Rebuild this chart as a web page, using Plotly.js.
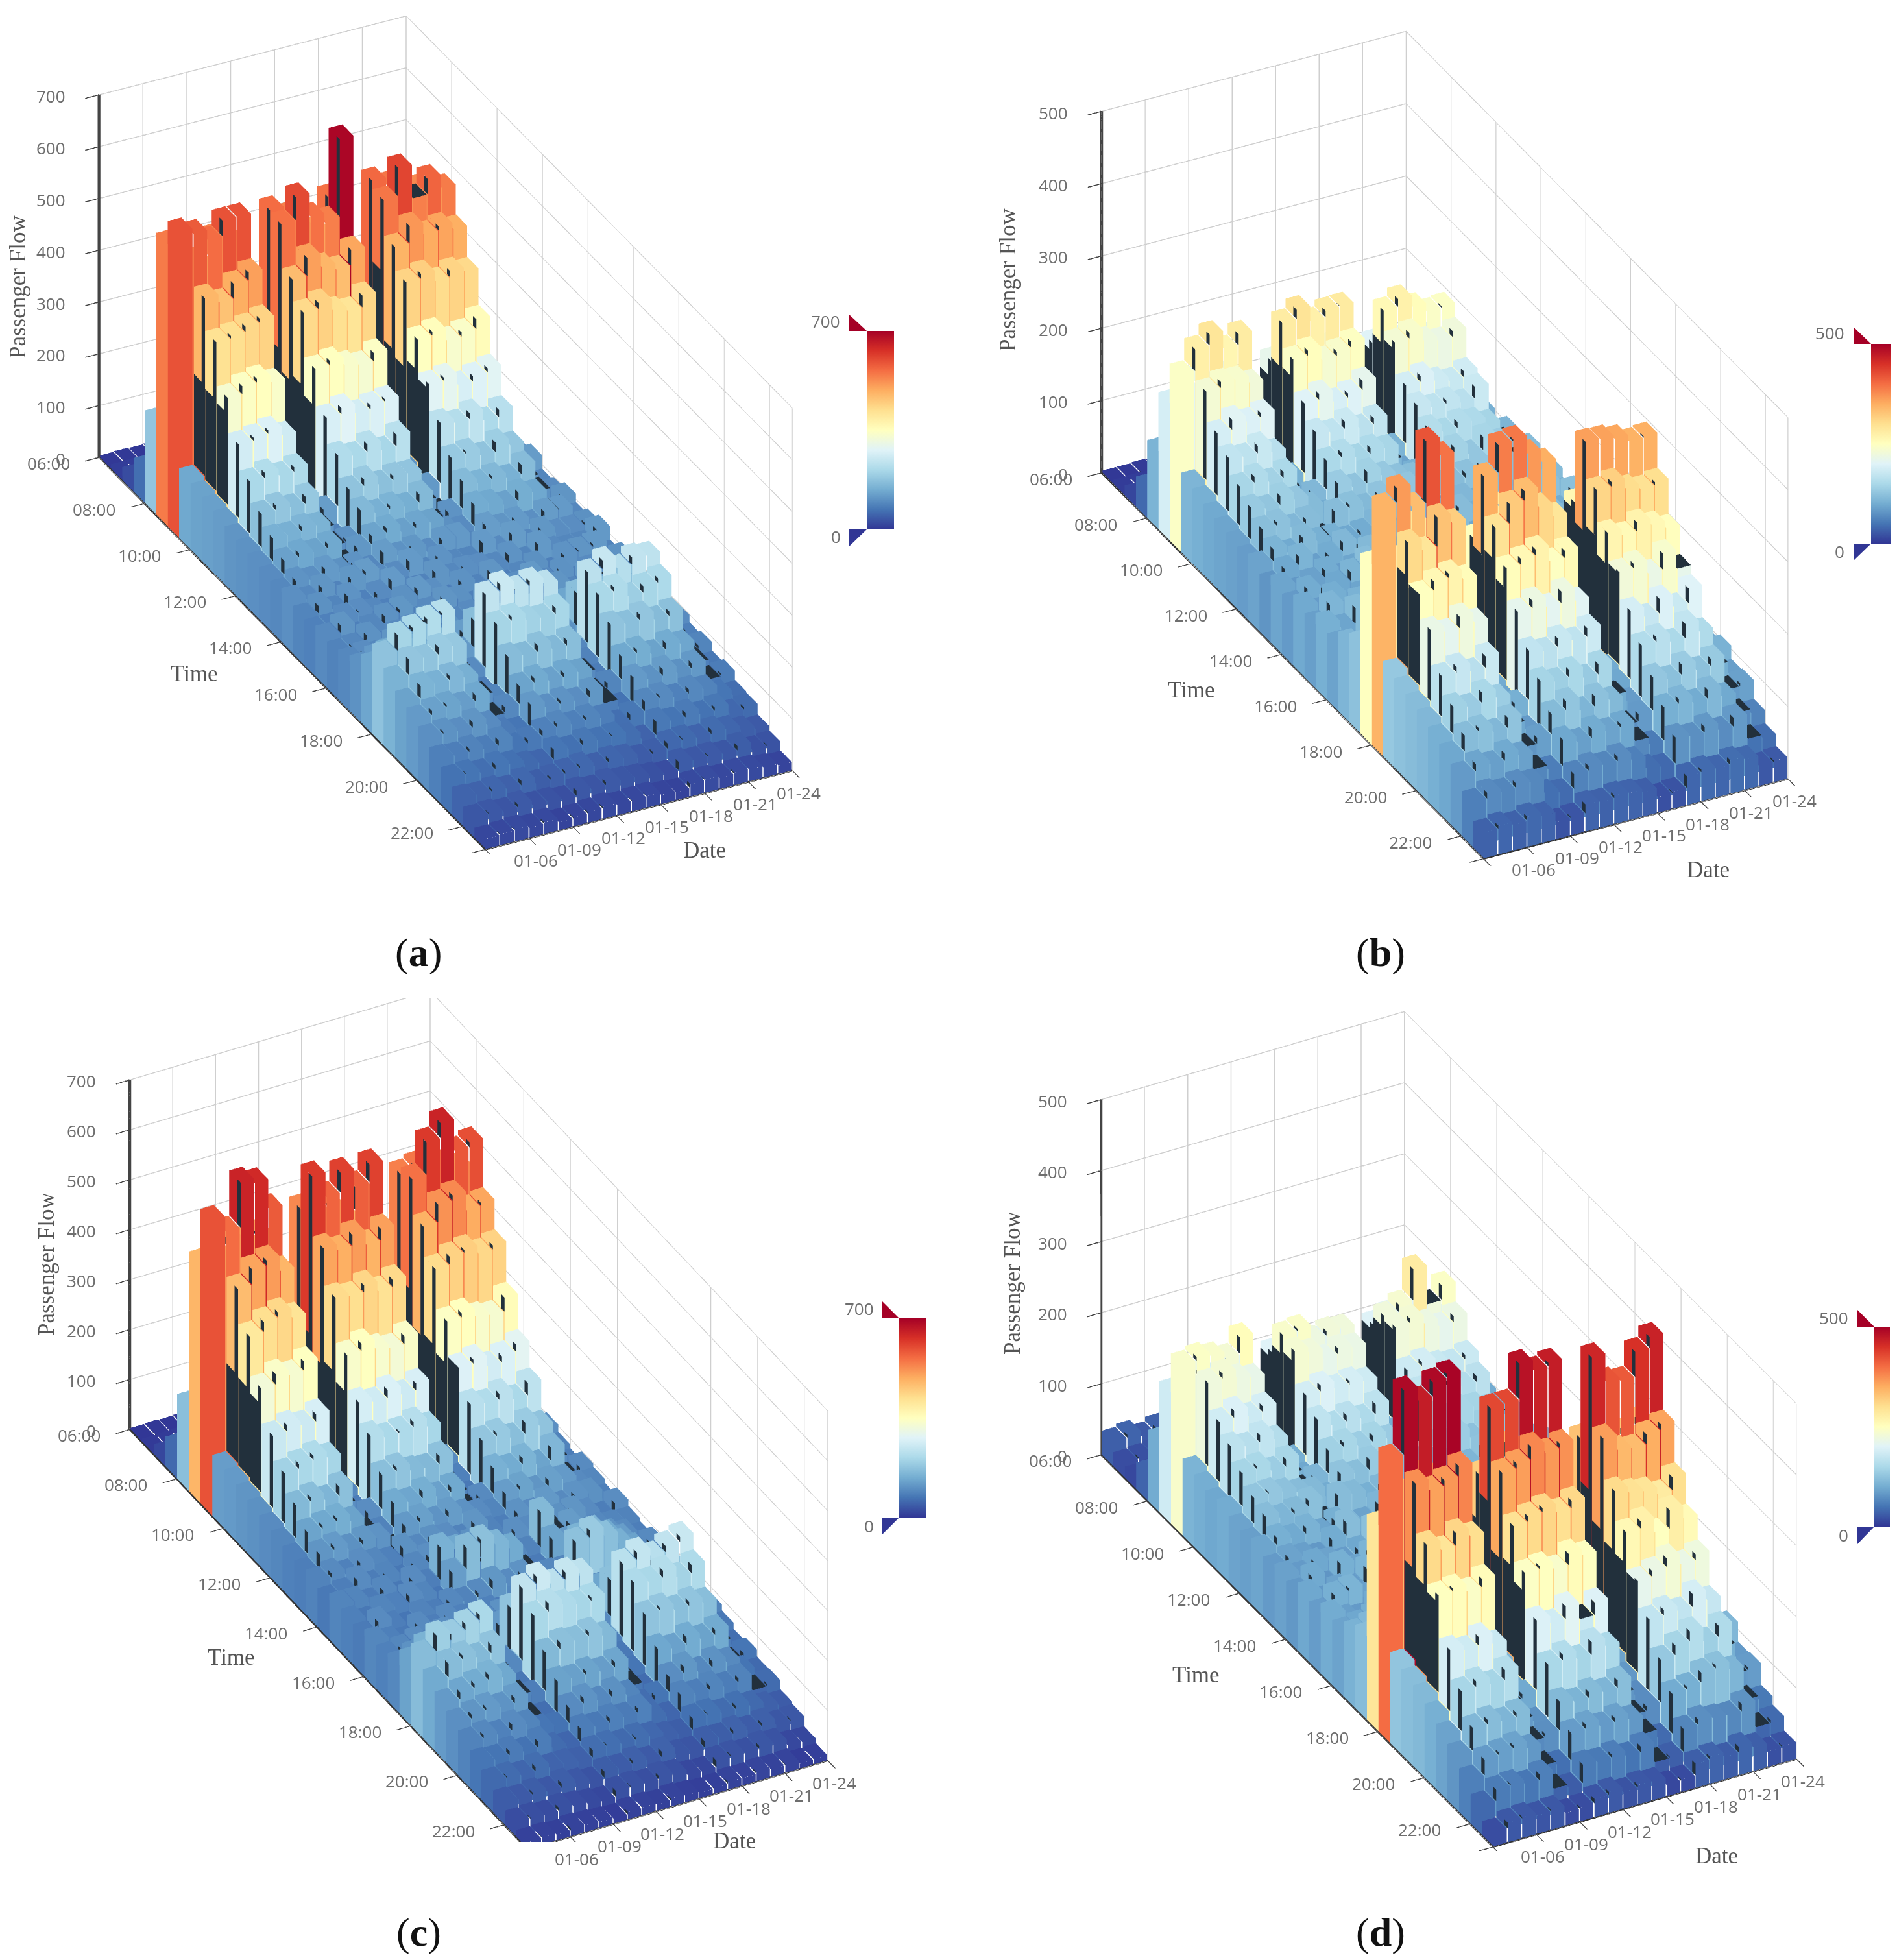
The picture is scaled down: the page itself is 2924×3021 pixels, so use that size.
<!DOCTYPE html>
<html><head><meta charset="utf-8"><script src="https://cdn.plot.ly/plotly-3.0.1.min.js"></script>
<style>html,body{margin:0;background:#fff}#c{width:2924px;height:3021px}</style></head><body><div id="c"></div>
<script>
const dateTicks=['01-06','01-09','01-12','01-15','01-18','01-21','01-24'];
const timeTicks=['06:00','08:00','10:00','12:00','14:00','16:00','18:00','20:00','22:00'];
const colors=['#313695','#4575b4','#74add1','#abd9e9','#e0f3f8','#ffffbf','#fee090','#fdae61','#f46d43','#d73027','#a50026'];
const flowA=[
[4,9,26,66,180,545,590,135,128,124,120,112,108,104,100,96,104,92,88,98,90,96,108,132,175,150,128,118,104,86,70,54,38,20],
[5,10,28,72,186,520,580,478,415,330,262,212,172,148,126,110,96,106,88,112,94,102,118,150,205,180,152,126,108,84,72,52,40,22],
[4,8,30,68,178,495,560,462,420,345,268,222,180,146,134,104,112,92,100,86,108,96,124,158,212,176,148,130,102,90,66,56,36,24],
[5,11,27,74,192,535,590,490,430,352,275,210,170,154,128,118,90,110,102,94,84,112,116,146,222,190,156,122,112,82,74,50,42,20],
[4,9,29,70,184,530,590,505,438,338,258,218,184,150,136,106,114,88,96,108,98,90,128,164,226,184,146,134,100,92,68,58,34,23],
[3,6,14,30,52,74,88,102,96,108,112,98,116,104,92,110,120,100,88,114,102,92,108,98,112,94,104,86,80,72,60,46,34,16],
[3,7,12,28,48,70,92,96,110,94,104,122,90,108,114,96,100,118,106,86,112,98,90,116,100,84,92,96,74,78,56,50,30,18],
[4,10,28,72,190,560,555,470,428,342,270,220,176,158,130,120,100,92,116,98,88,106,122,168,240,205,165,130,116,88,74,54,40,21],
[5,9,30,76,196,540,600,505,440,350,282,212,188,146,138,108,118,90,104,112,94,86,130,176,252,212,160,138,104,94,68,58,36,24],
[4,11,26,70,182,510,555,480,418,336,264,226,172,152,124,114,92,112,84,106,100,96,118,162,236,200,172,126,110,86,76,50,42,20],
[5,10,29,68,188,500,540,468,410,328,272,208,180,144,132,100,110,96,108,88,116,90,126,172,244,196,158,134,102,92,70,56,38,22],
[4,8,31,74,194,555,690,498,432,344,276,230,178,160,128,116,94,104,90,102,92,110,120,166,232,208,168,128,114,84,72,52,36,23],
[3,6,13,32,50,72,90,98,108,92,110,100,118,96,106,116,92,102,112,88,96,108,100,92,106,88,98,82,84,66,64,44,32,18],
[4,7,15,27,54,68,84,106,94,112,98,116,88,110,100,92,118,96,84,104,114,94,86,108,96,90,82,92,70,76,52,48,28,16],
[4,10,30,78,200,565,550,482,436,348,284,232,186,162,140,122,98,110,94,116,90,104,132,170,232,210,176,136,118,94,78,58,44,24],
[5,9,28,72,192,550,605,515,445,356,290,224,190,152,136,112,120,92,106,96,112,88,128,178,248,218,170,142,108,98,72,60,40,26],
[4,11,31,76,186,520,540,492,424,332,268,236,176,158,126,118,96,116,86,108,94,100,122,164,226,194,180,128,120,88,80,54,42,22],
[5,10,27,70,184,530,570,500,436,340,278,214,194,148,142,104,114,98,110,84,118,92,136,174,240,206,164,140,106,96,70,62,38,25],
[4,9,29,74,196,515,545,488,428,358,286,228,182,166,134,120,102,94,112,100,88,112,130,172,236,214,172,132,116,90,76,56,46,24],
[3,7,14,30,56,76,90,104,98,106,116,96,112,108,90,118,102,94,116,100,92,110,96,104,94,98,86,88,78,74,58,48,32,20],
[4,6,12,34,50,72,86,100,114,92,108,120,94,100,112,96,106,116,90,108,98,88,102,94,100,86,92,76,82,64,62,42,34,17]];
const flowB=[
[3,6,14,42,108,190,245,110,104,98,94,90,86,92,80,94,84,98,88,104,92,110,124,250,345,132,124,118,112,104,96,84,62,36],
[3,7,16,46,116,205,275,232,190,172,148,134,120,108,96,82,100,86,110,94,78,104,136,262,365,305,250,216,168,142,118,94,70,40],
[4,6,15,50,120,215,290,240,204,168,156,128,124,98,108,90,78,102,92,116,84,112,128,240,335,290,262,208,176,136,122,88,66,36],
[3,8,17,44,110,200,265,238,196,178,144,140,112,114,88,100,96,82,106,98,120,92,142,290,420,330,268,224,164,150,112,98,72,42],
[4,7,15,48,118,210,280,228,202,164,152,130,118,104,100,86,108,94,84,112,96,106,148,275,395,318,256,212,180,138,126,90,68,38],
[2,5,10,26,44,68,86,100,92,108,96,116,88,104,112,94,120,100,110,88,118,104,126,112,130,118,106,112,92,96,80,66,48,24],
[3,4,11,24,40,64,92,94,104,88,112,100,118,96,86,114,98,124,92,106,116,100,110,128,114,124,100,94,104,84,88,60,44,26],
[3,6,14,46,112,212,280,245,200,176,152,136,122,100,92,104,86,108,96,84,102,118,134,250,350,295,254,210,172,146,116,96,64,38],
[4,7,16,50,118,218,293,252,208,170,158,126,114,110,94,82,106,92,112,100,88,110,146,280,388,322,262,220,166,140,128,88,70,36],
[3,8,15,44,110,205,272,234,192,180,146,142,126,96,104,92,80,110,86,116,98,94,138,285,391,335,270,206,178,150,110,100,66,40],
[4,6,17,48,114,208,281,240,198,166,154,132,110,112,88,98,104,84,100,92,118,106,130,262,366,308,248,222,170,134,124,92,72,38],
[3,7,14,52,120,212,282,248,210,174,148,124,128,106,98,86,94,108,88,110,104,90,144,255,349,290,258,204,182,148,114,96,62,34],
[2,5,11,28,42,70,84,102,88,110,94,120,90,108,100,116,92,118,96,112,106,92,124,108,126,114,110,104,88,100,74,68,46,22],
[3,4,9,26,46,62,88,96,108,92,104,114,86,100,118,96,110,88,122,94,102,120,112,126,110,120,96,100,96,86,84,58,42,24],
[3,6,16,48,116,200,260,232,188,176,160,138,118,112,104,94,88,106,98,118,86,114,136,262,361,310,266,228,190,158,130,104,78,40],
[4,7,14,44,112,208,271,240,196,168,150,144,124,102,90,108,98,84,112,92,120,100,148,272,360,316,258,234,176,164,122,110,74,44],
[3,8,15,50,120,196,255,224,184,172,158,130,130,116,96,86,110,102,82,124,94,118,152,258,355,302,270,216,196,152,136,100,82,40],
[4,6,17,42,110,192,243,218,178,164,154,148,112,106,110,98,90,114,104,88,126,106,140,250,346,296,262,238,180,172,124,112,72,46],
[3,7,15,46,114,190,245,226,186,180,146,136,120,94,102,88,116,96,90,110,100,122,146,246,348,300,252,212,200,156,134,98,84,42],
[2,5,11,28,40,66,90,98,106,94,116,104,114,96,122,100,108,124,92,118,128,110,130,122,134,126,110,116,98,104,86,70,50,28],
[3,4,10,30,44,60,84,104,92,110,100,118,98,116,104,122,94,112,126,102,114,124,118,136,120,130,104,98,106,88,90,64,46,30]];
const flowC=[
[3,6,20,60,170,480,590,122,118,112,106,100,94,88,84,90,78,92,86,80,94,88,96,128,165,138,118,104,90,74,60,44,28,14],
[4,7,22,66,178,495,560,470,400,320,250,200,160,130,112,98,84,92,76,100,86,94,108,150,196,165,132,112,96,72,62,42,30,15],
[3,8,19,62,182,510,650,500,420,340,262,210,168,136,118,88,100,80,92,84,78,102,112,140,190,172,140,118,88,80,56,46,26,12],
[4,6,23,68,172,500,640,510,430,330,254,218,154,142,106,102,82,96,88,74,98,90,118,156,202,160,150,110,100,70,64,40,32,16],
[3,7,21,64,180,505,580,480,412,348,268,206,172,128,114,94,92,76,100,90,84,104,106,160,212,176,136,120,92,82,54,48,28,14],
[2,5,11,26,44,64,78,92,86,98,90,104,84,96,110,88,76,100,92,82,98,86,94,104,88,80,92,72,74,62,54,40,24,12],
[3,4,9,24,40,60,84,88,100,84,96,82,102,90,78,106,94,84,74,96,88,104,80,92,96,76,84,66,70,56,50,34,20,10],
[4,8,22,68,184,530,620,500,426,336,266,224,170,138,116,96,104,148,122,90,84,100,116,176,240,210,160,128,100,82,64,46,32,15],
[3,7,24,64,176,515,570,488,420,350,258,212,176,132,124,106,92,136,164,98,88,108,128,188,254,226,172,124,110,78,66,44,34,16],
[4,6,21,70,186,520,610,510,434,332,274,216,162,144,110,102,86,98,172,114,80,94,120,168,232,216,168,130,96,86,60,50,30,13],
[3,8,23,62,172,490,575,482,414,324,256,226,158,126,120,90,108,130,154,100,96,82,130,178,246,206,176,122,106,80,64,42,36,17],
[4,7,20,72,190,535,610,505,428,340,270,208,174,136,108,112,94,104,138,110,86,92,114,172,236,212,160,132,92,88,58,52,32,14],
[2,5,10,28,42,62,80,90,88,94,82,98,92,84,100,90,78,96,86,92,102,84,90,94,86,82,70,76,64,64,50,38,22,11],
[3,4,12,24,46,66,76,86,94,82,100,88,78,98,92,84,104,90,80,96,86,92,84,100,84,78,74,62,72,56,46,36,20,12],
[3,8,23,70,192,540,555,484,424,344,276,228,180,148,122,108,100,160,130,94,174,106,132,172,230,216,176,134,102,90,68,48,34,16],
[4,7,21,66,186,548,620,520,440,352,284,220,186,140,128,100,96,106,118,150,188,102,136,182,244,210,182,126,114,84,70,46,36,15],
[3,9,24,72,180,560,650,530,446,336,262,232,168,152,112,116,106,120,104,156,170,98,126,170,228,224,170,140,96,92,62,52,32,18],
[4,7,20,64,174,525,585,492,430,330,274,212,190,130,124,98,112,94,110,138,146,110,138,180,240,202,178,128,108,82,68,44,38,16],
[3,8,22,68,182,520,595,498,438,358,288,236,176,156,118,110,100,96,108,122,128,102,130,176,250,218,168,138,98,90,60,50,34,17],
[2,5,11,26,46,68,76,94,90,100,96,84,102,88,98,106,84,92,98,88,82,94,88,96,86,76,80,64,72,58,50,38,22,10],
[3,4,9,30,42,62,82,86,98,92,104,90,82,100,94,86,102,90,84,98,92,80,94,86,90,78,66,74,60,62,44,40,20,11]];
const flowD=[
[34,20,16,38,100,185,240,108,102,96,100,92,88,94,84,90,82,96,86,100,92,106,118,290,400,128,120,114,104,92,80,62,42,20],
[38,22,18,42,106,195,245,225,186,168,146,128,118,104,92,84,98,82,104,88,96,112,150,340,490,375,305,250,190,148,112,84,58,28],
[30,24,16,44,110,200,240,232,196,162,150,130,110,98,88,96,80,92,108,84,102,104,156,325,470,360,292,254,184,156,118,88,60,30],
[36,18,20,40,102,190,232,220,182,172,138,124,114,106,82,92,104,86,90,98,112,98,146,345,490,368,310,244,196,146,110,92,54,26],
[28,26,17,46,108,205,255,214,190,160,148,118,122,94,100,86,92,108,84,104,94,118,160,335,495,382,300,256,180,160,116,82,62,28],
[24,16,10,28,42,62,82,98,92,106,100,114,88,104,118,96,108,90,112,102,116,108,122,116,128,120,112,100,92,84,70,52,36,18],
[26,14,12,24,38,66,86,92,104,96,110,100,118,92,100,122,98,114,86,120,106,96,116,130,118,106,112,94,98,76,74,48,32,20],
[32,20,15,40,104,200,240,234,188,170,142,126,114,92,90,98,84,104,92,88,100,116,152,320,430,355,296,246,196,150,114,86,58,26],
[28,24,18,46,110,196,243,226,196,156,148,120,104,110,82,94,106,86,96,100,90,108,160,330,430,362,304,250,186,158,108,92,56,30],
[34,18,17,42,102,205,222,212,186,164,138,134,112,86,100,82,90,110,88,94,114,104,170,350,480,380,310,240,204,146,116,84,60,24],
[26,22,14,44,108,198,228,220,190,154,146,122,118,96,92,104,86,98,106,84,102,122,162,338,465,366,298,256,180,164,110,90,52,28],
[30,16,16,48,114,202,226,216,184,168,136,116,108,102,86,90,96,84,100,92,108,112,166,328,470,372,308,248,198,152,120,82,60,26],
[22,15,11,26,40,60,80,96,90,104,108,98,112,94,110,88,118,100,106,116,96,120,110,124,116,114,104,100,88,80,66,56,32,16],
[24,14,10,24,44,64,84,94,102,98,92,112,96,114,100,106,90,116,104,94,118,108,122,112,118,106,94,92,82,72,72,44,34,18],
[28,20,15,42,110,198,226,226,182,170,150,132,120,104,96,88,106,94,112,92,116,118,158,330,460,362,304,262,210,172,132,100,66,34],
[26,18,14,40,106,206,236,232,188,164,142,138,110,112,84,100,92,108,88,120,98,128,150,318,420,340,296,272,218,180,146,104,74,38],
[24,21,17,44,114,192,280,220,178,170,148,124,126,98,104,90,86,114,100,96,122,110,170,314,415,336,292,250,230,172,160,118,70,32],
[28,16,13,38,104,200,225,210,174,158,146,140,108,106,92,98,112,90,118,104,94,124,156,322,450,350,282,276,216,190,140,122,68,40],
[22,19,16,42,108,194,245,218,180,166,138,128,118,92,102,86,96,108,94,114,106,116,166,332,465,358,300,258,224,176,156,110,78,34],
[20,15,10,26,38,64,86,94,100,106,96,116,104,120,98,112,124,102,116,130,108,122,134,128,140,168,150,122,100,104,82,62,40,22],
[22,13,10,28,42,58,80,100,90,108,114,102,118,96,110,126,100,124,106,114,128,116,132,146,160,124,108,100,112,84,86,56,44,24]];
const W=2924,H=3021,D=1300,SLOTS=34,DAYS=21;
const scale=colors.map((c,i)=>[i/10,c]);
const panels=[
 {n:'scene',cx:687,cy:667,el:30.7,az:-26.7,A:695,B:278,C:341,max:700,rows:flowA,z:[0,100,200,300,400,500,600,700],
  cb:[1336,1378,510,816],tri:[1309,485,842],lab:[1272,495,1288,827],cap:['a',645,1468],pf:[27,443],tm:[299,1038],dt:[1086,1310]},
 {n:'scene2',cx:2227,cy:686,el:31,az:-27,A:694,B:282,C:348,max:500,rows:flowB,z:[0,100,200,300,400,500],
  cb:[2884,2915,530,838],tri:[2857,504,864],lab:[2820,513,2835,850],cap:['b',2128,1468],pf:[1554,431],tm:[1837,1063],dt:[2633,1340]},
 {n:'scene3',cx:738,cy:2189,el:34,az:-27.9,A:675,B:270,C:335,max:700,rows:flowC,z:[0,100,200,300,400,500,600,700],
  cb:[1386,1428,2032,2339],tri:[1360,2006,2365],lab:[1324,2017,1339,2352],cap:['c',645,2978],pf:[71,1949],tm:[356,2554],dt:[1132,2837]},
 {n:'scene4',cx:2233,cy:2203,el:32.6,az:-28.3,A:686,B:286,C:350,max:500,rows:flowD,z:[0,100,200,300,400,500],
  cb:[2889,2913,2045,2353],tri:[2863,2019,2380],lab:[2826,2031,2841,2366],cap:['d',2128,2978],pf:[1560,1978],tm:[1843,2581],dt:[2646,2860]}
];
function build(p){
 const xs=[],ys=[],zs=[],I=[],J=[],K=[],V=[];
 const dx=[],dy=[],dz=[],dI=[],dJ=[],dK=[];
 const wt=0.985,wd=0.93,slope=0.2*p.max,slit=0.25*p.max,sliver=0.3;
 const lit=(q,v)=>{const e=xs.length;q.forEach(a=>{xs.push(a[0]);ys.push(a[1]);zs.push(a[2]);});I.push(e,e);J.push(e+1,e+2);K.push(e+2,e+3);V.push(v,v);};
 const dark=(q)=>{const e=dx.length;q.forEach(a=>{dx.push(a[0]);dy.push(a[1]);dz.push(a[2]);});dI.push(e,e);dJ.push(e+1,e+2);dK.push(e+2,e+3);};
 p.rows.forEach((row,d)=>row.forEach((v,t)=>{
  const x0=t+(1-wt)/2,x1=t+1-(1-wt)/2,y0=d+(1-wd)/2,y1=d+1-(1-wd)/2,xm=x1-sliver*(x1-x0);
  const n=d>0?p.rows[d-1][t]:0;
  lit([[x1,y0,0],[x1,y1,0],[x1,y1,v],[x1,y0,v]],v);
  const top=[[x0,y0,v],[x1,y0,v],[x1,y1,v],[x0,y1,v]];
  if(d>0&&n-v>Math.max(0.04*p.max,0.1*n)) dark(top); else lit(top,v);
  if(d===0) lit([[x0,y0,0],[x1,y0,0],[x1,y0,v],[x0,y0,v]],v);
  else if(n<v){
   let s=n;
   if(v-n>slit){
    s=Math.min(v,Math.max(n+slit,d>1?p.rows[d-2][t]-slope:0,d>2?p.rows[d-3][t]-2*slope:0));
    dark([[x0,y0,n],[x1,y0,n],[x1,y0,s],[x0,y0,s]]);
   }
   if(s<v){
    lit([[x0,y0,s],[xm,y0,s],[xm,y0,v],[x0,y0,v]],v);
    dark([[xm,y0,s],[x1,y0,s],[x1,y0,v],[xm,y0,v]]);
   }
  }
 }));
 const flat={ambient:1,diffuse:0,specular:0,roughness:1,fresnel:0};
 const out=[{type:'mesh3d',scene:p.n,x:xs,y:ys,z:zs,i:I,j:J,k:K,intensity:V,intensitymode:'cell',colorscale:scale,cmin:0,cmax:p.max,flatshading:true,lighting:flat,hoverinfo:'skip',
   colorbar:{len:p.cb[3]-p.cb[2],lenmode:'pixels',thickness:p.cb[1]-p.cb[0],thicknessmode:'pixels',x:p.cb[0]/W,xanchor:'left',y:1-p.cb[2]/H,yanchor:'top',showticklabels:false,ticks:'',outlinewidth:0,xpad:0,ypad:0}}];
 if(dx.length) out.push({type:'mesh3d',scene:p.n,x:dx,y:dy,z:dz,i:dI,j:dJ,k:dK,color:'#22303c',flatshading:true,lighting:flat,hoverinfo:'skip',showscale:false});
 return out;
}
const labelFont={family:'Open Sans, sans-serif',size:26,color:'#6e6e6e'};
const layout={width:W,height:H,paper_bgcolor:'#fff',margin:{l:0,r:0,t:0,b:0,autoexpand:false},showlegend:false,annotations:[],shapes:[]};
const traces=[];
const px=(x)=>x/W,py=(y)=>1-y/H;
function note(x,y,text,font,angle){layout.annotations.push({xref:'paper',yref:'paper',x:px(x),y:py(y),text:text,showarrow:false,font:font,textangle:angle||0,xanchor:'center',yanchor:'middle'});}
const serif={family:'Liberation Serif, serif',size:35,color:'#555'};
const capFont={family:'Liberation Serif, serif',size:62,color:'#111'};
panels.forEach(p=>{
 const r=Math.PI/180,c=Math.cos(p.el*r),s=Math.sin(p.el*r),ca=Math.cos(p.az*r),sa=Math.sin(p.az*r),dist=4.6;
 const common={showbackground:false,showspikes:false,gridcolor:'#cfcfcf',gridwidth:3,showline:true,linecolor:'#333',linewidth:6,ticks:'outside',tickcolor:'#444',ticklen:24,tickwidth:3,showticklabels:false,title:{text:''},zeroline:false,autorange:false};
 const tickNotes=[];
 timeTicks.forEach((t,i)=>tickNotes.push({x:i*4,y:0,z:0,text:t,showarrow:false,font:labelFont,xanchor:'center',yanchor:'middle',xshift:-78,yshift:-9}));
 dateTicks.forEach((t,i)=>tickNotes.push({x:SLOTS,y:(i+1)*3,z:0,text:t,showarrow:false,font:labelFont,xanchor:'center',yanchor:'middle',xshift:10,yshift:-34}));
 p.z.forEach(v=>tickNotes.push({x:0,y:0,z:v,text:String(v),showarrow:false,font:labelFont,xanchor:'right',yanchor:'middle',xshift:-50,yshift:-2}));
 layout[p.n]={domain:{x:[(p.cx-D/2)/W,(p.cx+D/2)/W],y:[1-(p.cy+D/2)/H,1-(p.cy-D/2)/H]},aspectmode:'manual',aspectratio:{x:p.A/p.C,y:p.B/p.C,z:1},
  camera:{projection:{type:'orthographic'},up:{x:0,y:0,z:1},center:{x:0,y:0,z:0},eye:{x:dist*c*ca,y:dist*c*sa,z:dist*s}},
  annotations:tickNotes,
  xaxis:Object.assign({},common,{range:[0,SLOTS],tickmode:'array',tickvals:[0,4,8,12,16,20,24,28,32,34]}),
  yaxis:Object.assign({},common,{range:[0,DAYS],tickmode:'array',tickvals:[0,3,6,9,12,15,18,21]}),
  zaxis:Object.assign({},common,{range:[0,p.max],tickmode:'array',tickvals:p.z,linewidth:9,linecolor:'#444'})};
 traces.push(...build(p));
 note(p.pf[0],p.pf[1],'Passenger Flow',serif,-90);note(p.tm[0],p.tm[1],'Time',serif);note(p.dt[0],p.dt[1],'Date',serif);
 note(p.cap[1],p.cap[2],'(<b>'+p.cap[0]+'</b>)',capFont);
 note(p.lab[0],p.lab[1],String(p.max),labelFont);note(p.lab[2],p.lab[3],'0',labelFont);
 const x0=p.tri[0],x1=p.cb[0];
 layout.shapes.push({type:'path',xref:'paper',yref:'paper',path:`M${px(x0)},${py(p.tri[1])} L${px(x0)},${py(p.cb[2])} L${px(x1)},${py(p.cb[2])} Z`,fillcolor:colors[10],line:{width:0}});
 layout.shapes.push({type:'path',xref:'paper',yref:'paper',path:`M${px(x0)},${py(p.cb[3])} L${px(x1)},${py(p.cb[3])} L${px(x0)},${py(p.tri[2])} Z`,fillcolor:colors[0],line:{width:0}});
});
window.addEventListener('load',()=>setTimeout(()=>{
 Plotly.newPlot('c',traces,layout,{displayModeBar:false,plotGlPixelRatio:1});
},20));
</script></body></html>
